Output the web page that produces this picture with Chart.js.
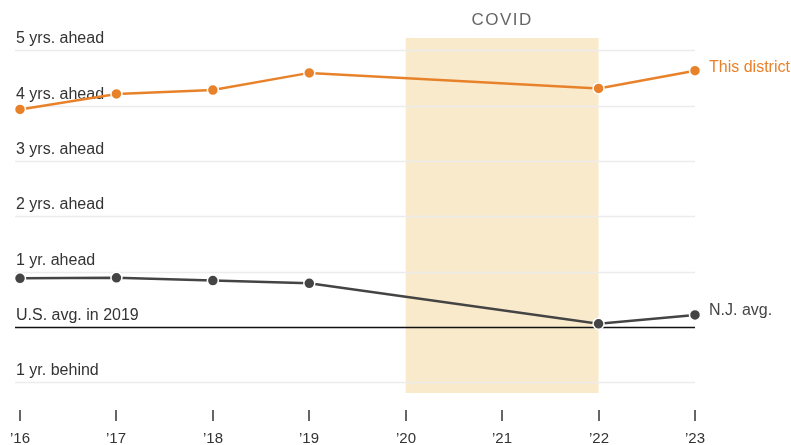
<!DOCTYPE html>
<html>
<head>
<meta charset="utf-8">
<script src="https://cdn.jsdelivr.net/npm/chart.js@4"></script>
<style>
  html, body { margin: 0; padding: 0; background: #fff; }
  #wrap { width: 791px; height: 445px; }
</style>
</head>
<body>
<div id="wrap"><canvas id="chart"></canvas></div>
<script>
// Years on the x axis and their tick labels
const years = [2016, 2017, 2018, 2019, 2020, 2021, 2022, 2023];
const yearLabels = ["\u201916", "\u201917", "\u201918", "\u201919", "\u201920", "\u201921", "\u201922", "\u201923"];

// Years measured (no tests in 2020 and 2021)
const dataYears = [2016, 2017, 2018, 2019, 2022, 2023];
const districtValues = [3.93, 4.21, 4.28, 4.59, 4.31, 4.63];
const njValues = [0.88, 0.89, 0.84, 0.79, 0.06, 0.22];

// Y axis grid values and labels
const yTickValues = [5, 4, 3, 2, 1, 0, -1];
const yTickLabels = ["5 yrs. ahead", "4 yrs. ahead", "3 yrs. ahead", "2 yrs. ahead", "1 yr. ahead", "U.S. avg. in 2019", "1 yr. behind"];

// COVID shaded period
const covidStart = 2020;
const covidEnd = 2022;

const ORANGE = "#e8822a";
const DARK = "#444444";
const FONT = "'Liberation Sans', Arial, sans-serif";

const toPoints = (xs, ys) => xs.map((x, i) => ({ x: x, y: ys[i] }));

/**
 * Draws shaded band, gridlines and y labels underneath the lines
 */
const backgroundPlugin = {
    id: "background",
    beforeDatasetsDraw(chart) {
        const { ctx, chartArea, scales } = chart;
        const x = scales.x;
        const y = scales.y;
        ctx.save();

        // COVID band
        ctx.fillStyle = "#f9eacb";
        const bx0 = x.getPixelForValue(covidStart);
        const bx1 = x.getPixelForValue(covidEnd);
        ctx.fillRect(bx0, chartArea.top, bx1 - bx0, chartArea.bottom - chartArea.top);

        // Gridlines
        yTickValues.forEach((v) => {
            const py = Math.round(y.getPixelForValue(v)) + 0.5;
            ctx.beginPath();
            ctx.moveTo(chartArea.left - 5, py);
            ctx.lineTo(chartArea.right, py);
            if (v === 0) {
                ctx.strokeStyle = "#111";
                ctx.lineWidth = 1.3;
            } else {
                ctx.strokeStyle = "#ececec";
                ctx.lineWidth = 1.5;
            }
            ctx.stroke();
        });

        // Labels above gridlines
        ctx.font = "16px " + FONT;
        ctx.fillStyle = "#333";
        ctx.textAlign = "left";
        ctx.textBaseline = "alphabetic";
        yTickValues.forEach((v, i) => {
            const py = y.getPixelForValue(v);
            ctx.fillText(yTickLabels[i], chartArea.left - 4, py - 7);
        });
        ctx.restore();
    },
    afterDraw(chart) {
        const { ctx, chartArea, scales } = chart;
        const x = scales.x;
        const y = scales.y;
        ctx.save();

        // X ticks and labels
        ctx.strokeStyle = "#333";
        ctx.lineWidth = 1.5;
        ctx.fillStyle = "#333";
        ctx.font = "15px " + FONT;
        ctx.textAlign = "center";
        ctx.textBaseline = "alphabetic";
        years.forEach((yr, i) => {
            const px = Math.round(x.getPixelForValue(yr));
            ctx.beginPath();
            ctx.moveTo(px, chartArea.bottom + 17);
            ctx.lineTo(px, chartArea.bottom + 28);
            ctx.stroke();
            ctx.fillText(yearLabels[i], px, chartArea.bottom + 50);
        });

        // COVID label
        ctx.fillStyle = "#666";
        ctx.font = "17px " + FONT;
        ctx.letterSpacing = "1.5px";
        ctx.fillText("COVID", x.getPixelForValue((covidStart + covidEnd) / 2), 25);
        ctx.letterSpacing = "0px";

        // Series labels
        ctx.textAlign = "left";
        ctx.font = "16px " + FONT;
        const lastX = x.getPixelForValue(dataYears[dataYears.length - 1]) + 14;
        ctx.fillStyle = ORANGE;
        ctx.fillText("This district", lastX, y.getPixelForValue(districtValues[districtValues.length - 1]) + 1);
        ctx.fillStyle = DARK;
        ctx.fillText("N.J. avg.", lastX, y.getPixelForValue(njValues[njValues.length - 1]) + 0);
        ctx.restore();
    },
};

new Chart(document.getElementById("chart"), {
    type: "line",
    data: {
        datasets: [
            {
                label: "This district",
                data: toPoints(dataYears, districtValues),
                borderColor: ORANGE,
                backgroundColor: ORANGE,
                borderWidth: 2.5,
                pointRadius: 5.5,
                pointBorderColor: "#fff",
                pointBorderWidth: 1.5,
                pointBackgroundColor: ORANGE,
                clip: false,
            },
            {
                label: "N.J. avg.",
                data: toPoints(dataYears, njValues),
                borderColor: DARK,
                backgroundColor: DARK,
                borderWidth: 2.5,
                pointRadius: 5.5,
                pointBorderColor: "#fff",
                pointBorderWidth: 1.5,
                pointBackgroundColor: DARK,
                clip: false,
            },
        ],
    },
    options: {
        responsive: true,
        maintainAspectRatio: false,
        animation: false,
        layout: { padding: { left: 20, right: 96, top: 38, bottom: 52 } },
        scales: {
            x: { type: "linear", min: 2016, max: 2023, display: false },
            y: { type: "linear", min: -1.19, max: 5.22, display: false },
        },
        plugins: {
            legend: { display: false },
            tooltip: { enabled: false },
        },
    },
    plugins: [backgroundPlugin],
});
</script>
</body>
</html>
